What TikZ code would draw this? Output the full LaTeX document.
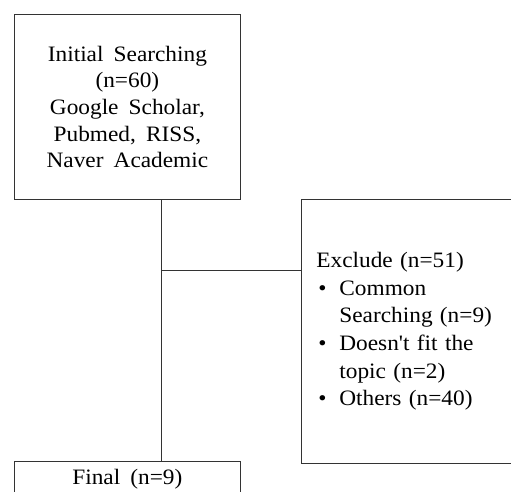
\documentclass[tikz,border=0pt]{standalone}
\usepackage{fontspec}
\setmainfont[Ligatures=TeXOff,FakeStretch=1.06]{Liberation Serif}
\newcommand\widesp{\spaceskip=0.46em plus 0.1em minus 0.05em\relax}
\begin{document}
\begin{tikzpicture}[x=1pt,y=1pt,
  box/.style={draw=black!80, line width=0.8pt, inner sep=0pt,
    font=\fontsize{22}{26.6}\selectfont\widesp},
  conn/.style={draw=black!80, line width=0.8pt}]
\useasboundingbox (0,0) rectangle (511,491);
\node[box, anchor=north west, minimum width=226pt, minimum height=185pt, align=center]
  (init) at (14,477) {Initial Searching\\(n=60)\\Google Scholar,\\Pubmed, RISS,\\Naver Academic};
\node[box, anchor=north west, minimum width=239pt, minimum height=264pt,
  text width=209pt, inner xsep=14pt, align=left,
  font=\fontsize{22}{27.6}\selectfont\widesp]
  (excl) at (301,292) {Exclude (n=51)\\
  \makebox[23pt][l]{\hspace*{2pt}•}Common\\
  \hspace*{23pt}Searching (n=9)\\
  \makebox[23pt][l]{\hspace*{2pt}•}Doesn't fit the\\
  \hspace*{23pt}topic (n=2)\\
  \makebox[23pt][l]{\hspace*{2pt}•}Others (n=40)};
\node[box, anchor=north west, minimum width=226pt, minimum height=36pt]
  (final) at (14,30) {Final (n=9)};
\coordinate (j) at ([xshift=34pt]init.south |- 0,221);
\draw[conn] ([xshift=34pt]init.south) -- ([xshift=34pt]final.north);
\draw[conn] (j) -- (j -| excl.west);
\end{tikzpicture}
\end{document}
